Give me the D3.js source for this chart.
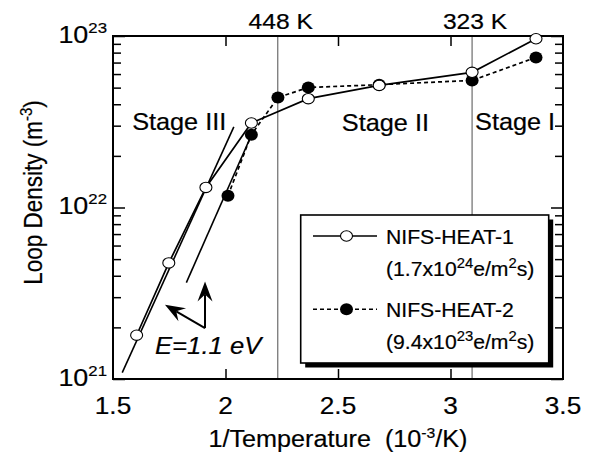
<!DOCTYPE html>
<html>
<head>
<meta charset="utf-8">
<script src="https://cdn.jsdelivr.net/npm/d3@7"></script>
<style>
  html, body { margin: 0; padding: 0; background: #fff; }
  svg text { font-family: "Liberation Sans", Arial, Helvetica, sans-serif; fill: #000; stroke: #000; stroke-width: 0.2px; }
</style>
</head>
<body>
<svg id="chart" width="594" height="456"></svg>
<script>
// ---------------- data ----------------
const xTicks = [1.5, 2, 2.5, 3, 3.5];
const xTickLabels = ["1.5", "2", "2.5", "3", "3.5"];
const yMajor = [1e21, 1e22, 1e23];
const yMajorExp = ["21", "22", "23"];
const tempLinesK = [448, 323];
const tempLabels = ["448 K", "323 K"];

const heat1X = [1.605, 1.748, 1.913, 2.115, 2.368, 2.683, 3.096, 3.38];
const heat1Y = [1.8e21, 4.75e21, 1.31e22, 3.11e22, 4.31e22, 5.15e22, 6.14e22, 9.64e22];
const heat2X = [2.011, 2.115, 2.233, 2.368, 2.683, 3.096, 3.38];
const heat2Y = [1.17e22, 2.66e22, 4.38e22, 5.01e22, 5.2e22, 5.51e22, 7.5e22];

// Arrhenius fit lines (endpoints)
const fit1X = [1.541, 2.037];
const fit1Y = [1.09e21, 2.95e22];
const fit2X = [1.826, 2.11];
const fit2Y = [3.65e21, 2.55e22];

// arrow annotation (vertex, tips)
const arrowBase = [1.909, 1.98e21];
const arrowTips = [[1.909, 3.7e21], [1.731, 2.71e21]];

const stageLabels = ["Stage III", "Stage II", "Stage I"];
const stageX = [1.585, 2.517, 3.109];
const stageY = [2.85e22, 2.8e22, 2.85e22];

const seriesNames = ["NIFS-HEAT-1", "NIFS-HEAT-2"];

// ---------------- layout ----------------
const W = 594, H = 456;
const L = 113, R = 563, T = 36, B = 379;
const svg = d3.select("#chart");

const x = d3.scaleLinear().domain([1.5, 3.5]).range([L, R]);
const y = d3.scaleLog().domain([1e21, 1e23]).range([B, T]);

function stext(g, px, py, sx, size, anchor) {
  return g.append("text")
    .attr("transform", `translate(${px},${py}) scale(${sx},1)`)
    .attr("text-anchor", anchor || "start")
    .style("font-size", size + "px");
}

// vertical temperature lines
tempLinesK.forEach((k, i) => {
  const xv = x(1000 / k);
  svg.append("line").attr("x1", xv).attr("x2", xv).attr("y1", T).attr("y2", B)
    .attr("stroke", "#777").attr("stroke-width", 1.3);
  stext(svg, xv + 3, 28.5, 1.12, 22, "middle").text(tempLabels[i]);
});

// axes with inward ticks
const minorVals = [];
[1e21, 1e22].forEach(d => { for (let m = 2; m <= 9; m++) minorVals.push(d * m); });

const axL = d3.axisRight(y).tickValues(yMajor).tickSize(12).tickFormat("");
const axLm = d3.axisRight(y).tickValues(minorVals).tickSize(8).tickFormat("");
const axR = d3.axisLeft(y).tickValues(yMajor).tickSize(12).tickFormat("");
const axRm = d3.axisLeft(y).tickValues(minorVals).tickSize(8).tickFormat("");
const axB = d3.axisTop(x).tickValues([2, 2.5, 3]).tickSize(10).tickFormat("");
const axT = d3.axisBottom(x).tickValues([2, 2.5, 3]).tickSize(10).tickFormat("");

function styleAxis(g) {
  g.select(".domain").remove();
  g.selectAll("line").attr("stroke", "#000").attr("stroke-width", 1.5);
}
svg.append("g").attr("transform", `translate(${L},0)`).call(axL).call(styleAxis);
svg.append("g").attr("transform", `translate(${L},0)`).call(axLm).call(styleAxis);
svg.append("g").attr("transform", `translate(${R},0)`).call(axR).call(styleAxis);
svg.append("g").attr("transform", `translate(${R},0)`).call(axRm).call(styleAxis);
svg.append("g").attr("transform", `translate(0,${B})`).call(axB).call(styleAxis);
svg.append("g").attr("transform", `translate(0,${T})`).call(axT).call(styleAxis);

svg.append("rect").attr("x", L).attr("y", T).attr("width", R - L).attr("height", B - T)
  .attr("fill", "none").attr("stroke", "#000").attr("stroke-width", 2);

// x tick labels
xTicks.forEach((v, i) => {
  stext(svg, x(v), 413.5, 1.14, 23, "middle").text(xTickLabels[i]);
});
// y tick labels
yMajor.forEach((v, i) => {
  const t = stext(svg, 107, y(v) + 6.5, 1.12, 24, "end");
  t.append("tspan").text("10");
  t.append("tspan").attr("dy", -10).style("font-size", "15px").text(yMajorExp[i]);
});

// axis titles
{
  const t = stext(svg, 338, 447, 1.05, 24, "middle");
  t.append("tspan").text("1/Temperature\u00A0 (10");
  t.append("tspan").attr("dy", -9).style("font-size", "15px").text("-3");
  t.append("tspan").attr("dy", 9).text("/K)");
}
{
  const t = svg.append("text")
    .attr("transform", "translate(42,192.5) rotate(-90) scale(1,1.12)")
    .attr("text-anchor", "middle").style("font-size", "22.5px");
  t.append("tspan").text("Loop Density (m");
  t.append("tspan").attr("dy", -9).style("font-size", "15px").text("-3");
  t.append("tspan").attr("dy", 9).text(")");
}

// fit lines
[[fit1X, fit1Y], [fit2X, fit2Y]].forEach(([fx, fy]) => {
  svg.append("line").attr("x1", x(fx[0])).attr("y1", y(fy[0]))
    .attr("x2", x(fx[1])).attr("y2", y(fy[1]))
    .attr("stroke", "#000").attr("stroke-width", 1.6);
});

// data lines
const line = d3.line().x(d => x(d[0])).y(d => y(d[1]));
const d1 = heat1X.map((v, i) => [v, heat1Y[i]]);
const d2 = heat2X.map((v, i) => [v, heat2Y[i]]);
svg.append("path").datum(d2).attr("d", line).attr("fill", "none")
  .attr("stroke", "#000").attr("stroke-width", 1.7).attr("stroke-dasharray", "4,3");
svg.append("path").datum(d1).attr("d", line).attr("fill", "none")
  .attr("stroke", "#000").attr("stroke-width", 1.7);

// markers
svg.selectAll(".m2").data(d2).enter().append("ellipse")
  .attr("cx", d => x(d[0])).attr("cy", d => y(d[1])).attr("rx", 6.5).attr("ry", 6)
  .attr("fill", "#000");
svg.selectAll(".m1").data(d1).enter().append("ellipse")
  .attr("cx", d => x(d[0])).attr("cy", d => y(d[1])).attr("rx", 6).attr("ry", 5.2)
  .attr("fill", "#fff").attr("stroke", "#000").attr("stroke-width", 1.1);

// arrows
function arrow(x0, y0, x1, y1) {
  const dx = x1 - x0, dy = y1 - y0, len = Math.hypot(dx, dy);
  const ux = dx / len, uy = dy / len, nx = -uy, ny = ux;
  const hl = 20, hw = 7.5, notch = 13;
  const bx = x1 - ux * hl, by = y1 - uy * hl;
  const kx = x1 - ux * notch, ky = y1 - uy * notch;
  svg.append("line").attr("x1", x0).attr("y1", y0).attr("x2", kx).attr("y2", ky)
    .attr("stroke", "#000").attr("stroke-width", 2);
  svg.append("path")
    .attr("d", `M${x1},${y1} L${bx + nx * hw},${by + ny * hw} L${kx},${ky} L${bx - nx * hw},${by - ny * hw} Z`)
    .attr("fill", "#000");
}
arrowTips.forEach(tp => arrow(x(arrowBase[0]), y(arrowBase[1]), x(tp[0]), y(tp[1])));

// annotation texts
stageLabels.forEach((s, i) => {
  stext(svg, x(stageX[i]), y(stageY[i]) + 0.5, 1.1, 23, "start").text(s);
});
stext(svg, 155, 353.5, 1.07, 24, "start").style("font-style", "italic").text("E=1.1 eV");

// legend
const lg = svg.append("g");
const bx0 = 300.7, by0 = 215, bw = 248, bh = 148;
lg.append("rect").attr("x", bx0 + 4.5).attr("y", by0 + 4.5).attr("width", bw).attr("height", bh).attr("fill", "#000");
lg.append("rect").attr("x", bx0).attr("y", by0).attr("width", bw).attr("height", bh)
  .attr("fill", "#fff").attr("stroke", "#000").attr("stroke-width", 1.6);

const legY = [236, 309.3];
const legSub = [["1.7x10", "24"], ["9.4x10", "23"]];
seriesNames.forEach((n, i) => {
  const ly = legY[i];
  const ln = lg.append("line").attr("x1", 313).attr("x2", 377).attr("y1", ly).attr("y2", ly)
    .attr("stroke", "#000").attr("stroke-width", 1.6);
  if (i === 1) ln.attr("stroke-dasharray", "4,3");
  if (i === 0) {
    lg.append("ellipse").attr("cx", 346.5).attr("cy", ly).attr("rx", 6).attr("ry", 5.2)
      .attr("fill", "#fff").attr("stroke", "#000").attr("stroke-width", 1.1);
  } else {
    lg.append("ellipse").attr("cx", 346.5).attr("cy", ly).attr("rx", 6.5).attr("ry", 6).attr("fill", "#000");
  }
  stext(lg, 386, ly + 7.5, 1.06, 20, "start").text(n);
  const t = stext(lg, 386, ly + 39.5, 1.06, 20, "start");
  t.append("tspan").text("(" + legSub[i][0]);
  t.append("tspan").attr("dy", -7.5).style("font-size", "14px").text(legSub[i][1]);
  t.append("tspan").attr("dy", 7.5).text("e/m");
  t.append("tspan").attr("dy", -7.5).style("font-size", "14px").text("2");
  t.append("tspan").attr("dy", 7.5).text("s)");
});
</script>
</body>
</html>
